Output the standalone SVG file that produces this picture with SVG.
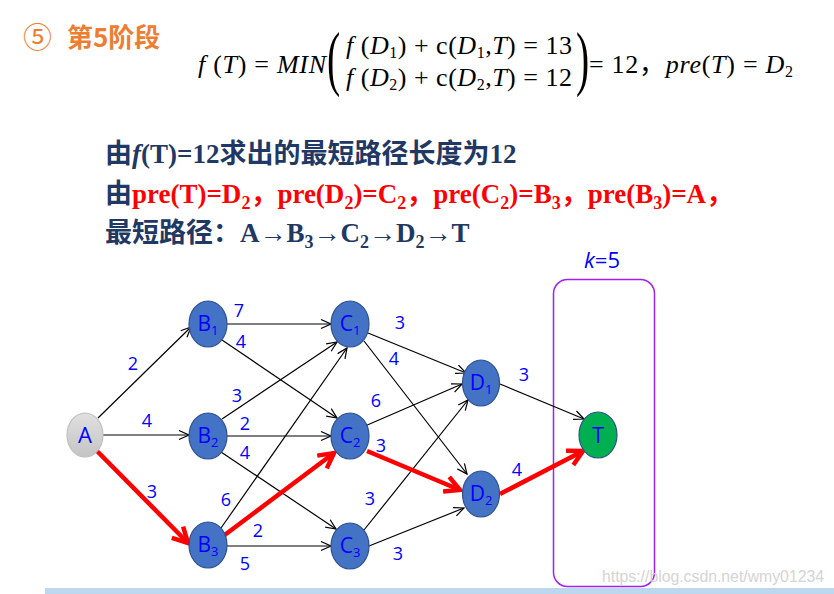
<svg xmlns="http://www.w3.org/2000/svg" width="834" height="594" viewBox="0 0 834 594">
<defs>
<style>
.n{fill:#4472c4;stroke:#2f528f;stroke-width:1.2}
.nl{font-family:"Open Sans","Noto Sans",sans-serif;font-size:21px;fill:#0000ff;text-anchor:middle}
.sb{font-size:13px}
.e{stroke:#000;stroke-width:1.2;fill:none;marker-end:url(#ah)}
.r{stroke:#ff0000;stroke-width:4.5;fill:none;marker-end:url(#rh)}
.w{font-family:"Open Sans","Noto Sans",sans-serif;font-size:18px;fill:#0000ff;text-anchor:middle}
.m{font-family:"Liberation Serif","Times New Roman",serif;font-size:26px;fill:#000}
.i{font-style:italic}
.cn{font-family:"Noto Sans CJK SC","Noto Sans",sans-serif;font-weight:bold}
.tb{font-family:"Liberation Serif","Noto Sans CJK SC",serif;font-weight:bold;font-size:27px}
</style>
<marker id="ah" markerUnits="userSpaceOnUse" markerWidth="14" markerHeight="12" refX="11" refY="5" orient="auto">
<path d="M1,0.5 L11,5 L1,9.5" fill="none" stroke="#000" stroke-width="1.2"/>
</marker>
<marker id="rh" markerUnits="userSpaceOnUse" markerWidth="22" markerHeight="22" refX="17" refY="10" orient="auto">
<path d="M2,2 L17,10 L2,18" fill="none" stroke="#ff0000" stroke-width="4.5" stroke-linejoin="miter"/>
</marker>
<linearGradient id="ga" x1="0" y1="0" x2="0" y2="1">
<stop offset="0" stop-color="#e0e0e0"/>
<stop offset="1" stop-color="#c4c4c4"/>
</linearGradient>
</defs>
<rect width="834" height="594" fill="#ffffff"/>

<g id="header" fill="#ed7d31">
<text x="23" y="48" font-family="Noto Sans CJK SC,sans-serif" style="font-size:29px">⑤</text>
<text x="67" y="47" class="cn" style="font-size:26px">第5阶段</text>
</g>

<g id="formula">
<text x="198" y="73" class="m" textLength="128" lengthAdjust="spacing"><tspan class="i">f</tspan> (<tspan class="i">T</tspan>) = <tspan class="i">MIN</tspan></text>
<text class="m" style="font-size:72px" transform="translate(327,82) scale(0.55,1)">(</text>
<text x="346" y="54" class="m" textLength="226" lengthAdjust="spacing"><tspan class="i">f</tspan> (<tspan class="i">D</tspan><tspan font-size="16" dy="4">1</tspan><tspan dy="-4">) + c(</tspan><tspan class="i">D</tspan><tspan font-size="16" dy="4">1</tspan><tspan dy="-4">,</tspan><tspan class="i">T</tspan>) = 13</text>
<text x="346" y="86" class="m" textLength="226" lengthAdjust="spacing"><tspan class="i">f</tspan> (<tspan class="i">D</tspan><tspan font-size="16" dy="4">2</tspan><tspan dy="-4">) + c(</tspan><tspan class="i">D</tspan><tspan font-size="16" dy="4">2</tspan><tspan dy="-4">,</tspan><tspan class="i">T</tspan>) = 12</text>
<text class="m" style="font-size:72px" transform="translate(576,82) scale(0.55,1)">)</text>
<text x="589" y="73" class="m" textLength="204" lengthAdjust="spacing">= 12<tspan font-family="Noto Sans CJK SC,sans-serif">，</tspan><tspan class="i">pre</tspan>(<tspan class="i">T</tspan>) = <tspan class="i">D</tspan><tspan font-size="16" dy="4">2</tspan></text>
</g>

<g id="text-lines">
<text x="105" y="163" class="tb" fill="#1f3864"><tspan class="cn">由</tspan><tspan font-style="italic">f</tspan>(T)=12<tspan class="cn">求出的最短路径长度为</tspan>12</text>
<text x="105" y="203" class="tb" fill="#ff0000"><tspan class="cn" fill="#1f3864">由</tspan>pre(T)=D<tspan font-size="18" dy="6">2</tspan><tspan dy="-6" class="cn">，</tspan>pre(D<tspan font-size="18" dy="6">2</tspan><tspan dy="-6">)=C</tspan><tspan font-size="18" dy="6">2</tspan><tspan dy="-6" class="cn">，</tspan>pre(C<tspan font-size="18" dy="6">2</tspan><tspan dy="-6">)=B</tspan><tspan font-size="18" dy="6">3</tspan><tspan dy="-6" class="cn">，</tspan>pre(B<tspan font-size="18" dy="6">3</tspan><tspan dy="-6">)=A</tspan><tspan class="cn">，</tspan></text>
<text x="105" y="242" class="tb" fill="#1f3864"><tspan class="cn">最短路径：</tspan>A→B<tspan font-size="18" dy="6">3</tspan><tspan dy="-6">→C</tspan><tspan font-size="18" dy="6">2</tspan><tspan dy="-6">→D</tspan><tspan font-size="18" dy="6">2</tspan><tspan dy="-6">→T</tspan></text>
</g>

<g id="stage-box">
<rect x="553.5" y="279.5" width="101" height="307" rx="14" fill="none" stroke="#a020f0" stroke-width="1.5"/>
<text x="602" y="268" font-family="Open Sans,Noto Sans,sans-serif" font-size="22" fill="#0000ff" text-anchor="middle"><tspan font-style="italic">k</tspan>=5</text>
</g>

<g id="connectors">
<line class="e" x1="98" y1="418" x2="191" y2="327"/>
<line class="e" x1="103" y1="435" x2="189" y2="435"/>
<line class="e" x1="226" y1="324" x2="331" y2="324"/>
<line class="e" x1="222" y1="340" x2="337" y2="418"/>
<line class="e" x1="222" y1="419" x2="337" y2="342"/>
<line class="e" x1="227" y1="436" x2="331" y2="436"/>
<line class="e" x1="221" y1="452" x2="336" y2="529"/>
<line class="e" x1="221" y1="528" x2="347" y2="348"/>
<line class="e" x1="227" y1="546" x2="331" y2="546"/>
<line class="e" x1="368" y1="333" x2="466" y2="373"/>
<line class="e" x1="364" y1="341" x2="467" y2="474"/>
<line class="e" x1="365" y1="426" x2="462" y2="384"/>
<line class="e" x1="364" y1="530" x2="468" y2="400"/>
<line class="e" x1="369" y1="546" x2="464" y2="508"/>
<line class="e" x1="500" y1="384" x2="584" y2="419"/>
<line class="r" x1="97" y1="451" x2="188" y2="543"/>
<line class="r" x1="222" y1="537" x2="334" y2="453"/>
<line class="r" x1="367" y1="451" x2="460" y2="490"/>
<line class="r" x1="500" y1="494" x2="583" y2="451"/>
</g>

<g id="edge-labels" class="w">
<text x="133" y="370">2</text>
<text x="147" y="427">4</text>
<text x="152" y="498">3</text>
<text x="239" y="317">7</text>
<text x="241" y="348">4</text>
<text x="237" y="402">3</text>
<text x="245" y="430">2</text>
<text x="245" y="459">4</text>
<text x="226" y="506">6</text>
<text x="258" y="537">2</text>
<text x="245" y="570">5</text>
<text x="400" y="329">3</text>
<text x="394" y="365">4</text>
<text x="376" y="407">6</text>
<text x="381" y="452">3</text>
<text x="370" y="505">3</text>
<text x="398" y="560">3</text>
<text x="524" y="381">3</text>
<text x="517" y="476">4</text>
</g>

<g id="A"><ellipse cx="85" cy="435" rx="18" ry="22" fill="url(#ga)" stroke="#bfbfbf" stroke-width="1.2"/><text x="85" y="443" class="nl" style="font-size:22px">A</text></g>
<g id="B1"><ellipse class="n" cx="208" cy="324" rx="19" ry="23"/><text x="208" y="331" class="nl">B<tspan class="sb" dy="4">1</tspan></text></g>
<g id="B2"><ellipse class="n" cx="208" cy="436" rx="19" ry="23"/><text x="208" y="443" class="nl">B<tspan class="sb" dy="4">2</tspan></text></g>
<g id="B3"><ellipse class="n" cx="208" cy="545" rx="19" ry="23"/><text x="208" y="552" class="nl">B<tspan class="sb" dy="4">3</tspan></text></g>
<g id="C1"><ellipse class="n" cx="350" cy="324" rx="19" ry="23"/><text x="350" y="331" class="nl">C<tspan class="sb" dy="4">1</tspan></text></g>
<g id="C2"><ellipse class="n" cx="350" cy="436" rx="19" ry="23"/><text x="350" y="443" class="nl">C<tspan class="sb" dy="4">2</tspan></text></g>
<g id="C3"><ellipse class="n" cx="350" cy="546" rx="19" ry="23"/><text x="350" y="553" class="nl">C<tspan class="sb" dy="4">3</tspan></text></g>
<g id="D1"><ellipse class="n" cx="481" cy="383" rx="18.5" ry="23"/><text x="481" y="390" class="nl">D<tspan class="sb" dy="4">1</tspan></text></g>
<g id="D2"><ellipse class="n" cx="481" cy="494" rx="18.5" ry="23"/><text x="481" y="501" class="nl">D<tspan class="sb" dy="4">2</tspan></text></g>
<g id="T"><ellipse cx="598" cy="435" rx="19" ry="23" fill="#00b050" stroke="#2f528f" stroke-width="1.2"/><text x="598" y="443" class="nl" style="font-size:22px">T</text></g>

<rect x="45" y="588" width="789" height="6" fill="#bdd7ee"/>
<text x="602" y="582" font-family="Liberation Sans,Arial,sans-serif" font-size="16" textLength="222" lengthAdjust="spacingAndGlyphs" fill="#d0d0d0" opacity="0.9">https://blog.csdn.net/wmy01234</text>
</svg>
